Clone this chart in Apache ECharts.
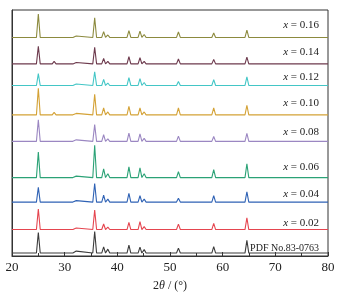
<!DOCTYPE html>
<html>
<head>
<meta charset="utf-8">
<script src="https://cdn.jsdelivr.net/npm/echarts@6/dist/echarts.min.js"></script>
<style>
  html, body { margin: 0; padding: 0; background: #fff; }
  #chart { width: 342px; height: 297px; }
</style>
</head>
<body>
<div id="chart"></div>
<script>
// peak positions (2θ, degrees)
const PEAKS = [21.4, 25.0, 28.0, 31.2, 32.2, 35.7, 37.4, 38.2, 39.6, 40.7, 42.2, 44.3, 45.1, 46.8,
  51.6, 54.3, 56.6, 58.3, 61.9, 64.6, 68.0, 71.0, 74.0, 76.2];

// trace names, colours, vertical offsets (stacked) and peak heights
const NAMES = ['PDF No.83-0763', 'x = 0.02', 'x = 0.04', 'x = 0.06', 'x = 0.08', 'x = 0.10', 'x = 0.12', 'x = 0.14', 'x = 0.16'];
const COLORS = ['#3c3c3c', '#e5454f', '#2f62b5', '#2ba276', '#9b87c2', '#d4a236', '#43c6c6', '#6d3a4d', '#8c8a3e'];
const OFFSETS = [3, 27, 55, 80, 117, 144, 174, 196, 223];

const H_PDF = [1, 21, 1.5, 2, 2, 22, 6.3, 4, 2, 2, 8, 6, 3.5, 1.5, 5, 1, 1.5, 6.5, 2, 13, 1, 1, 1, 1.5];
const H_002 = [1, 21, 1.5, 1.5, 1.5, 20, 5.7, 2.5, 1.5, 1.5, 7.3, 8, 3, 1, 5.5, 0.5, 1, 6.3, 1.5, 12, 0.5, 0.5, 0.5, 1];
const H_004 = [1, 15, 1.5, 1.5, 1.5, 19, 7, 3, 1.5, 1.5, 9, 6.5, 3, 1, 4, 0.5, 1, 6.5, 1.5, 10.5, 0.5, 0.5, 0.5, 1];
const H_006 = [1, 26, 2, 1.5, 1.5, 33, 9, 4, 2, 2, 11, 10, 4, 1, 6, 0.5, 1, 8, 2, 14, 0.5, 0.5, 0.5, 1];
const H_008 = [1, 22, 2, 1.5, 1.5, 17, 6.7, 2.5, 1.5, 1.5, 8.3, 7.7, 3, 1, 5.3, 0.5, 1, 5, 1.5, 8, 0.5, 0.5, 0.5, 1];
const H_010 = [1, 27, 2.5, 1.5, 1.5, 21, 7, 3, 1.5, 1.5, 8.7, 7, 3, 1, 7, 0.5, 1, 7, 2, 9.7, 0.5, 0.5, 0.5, 1];
const H_012 = [1, 12, 2, 1.5, 1.5, 14, 6.3, 2.5, 1.5, 1.5, 8, 7, 3, 1, 4, 0.5, 1, 6, 1.5, 8.7, 0.5, 0.5, 0.5, 1];
const H_014 = [1, 18, 2.5, 1.5, 1.5, 17, 5.5, 2.5, 1.5, 1.5, 7.3, 6.3, 2.5, 1, 5, 0.5, 1, 4.5, 1.5, 7, 0.5, 0.5, 0.5, 1];
const H_016 = [1, 24, 2, 1.5, 1.5, 20, 6, 2.5, 1.5, 1.5, 7, 6.5, 3, 1, 5.5, 0.5, 1, 4.5, 1.5, 7.5, 0.5, 0.5, 0.5, 1];
const HEIGHTS = [H_PDF, H_002, H_004, H_006, H_008, H_010, H_012, H_014, H_016];

// label positions (px)
const LABEL_Y = [249, 224, 195, 168, 133, 104, 78, 53, 26];

const HALF = 0.36; // peak half width at base, degrees

function trace(heights, base) {
  const pts = [[20, base]];
  PEAKS.forEach((p, i) => {
    pts.push([p - HALF, base], [p, base + heights[i]], [p + HALF, base]);
  });
  pts.push([80, base]);
  return pts;
}

const FONT = '"Liberation Serif", "DejaVu Serif", serif';

const chart = echarts.init(document.getElementById('chart'), null, { renderer: 'canvas' });

chart.setOption({
  animation: false,
  backgroundColor: '#fff',
  grid: { left: 12, right: 14, top: 10, bottom: 36, show: true, borderColor: '#333', borderWidth: 1 },
  xAxis: {
    type: 'value',
    min: 20,
    max: 80,
    interval: 10,
    name: '2{i|θ} / (°)',
    nameLocation: 'middle',
    nameGap: 24,
    nameTextStyle: {
      fontFamily: FONT, fontSize: 12, color: '#222',
      rich: { i: { fontFamily: FONT, fontStyle: 'italic', fontSize: 12, color: '#222' } }
    },
    axisLine: { lineStyle: { color: '#333', width: 1 } },
    axisTick: { inside: true, length: 4, lineStyle: { color: '#333' } },
    minorTick: { show: true, splitNumber: 2, length: 3, lineStyle: { color: '#333' } },
    splitLine: { show: false },
    axisLabel: { fontFamily: FONT, fontSize: 13, color: '#222', margin: 5 }
  },
  yAxis: {
    type: 'value',
    min: 0,
    max: 251,
    axisLine: { show: true, lineStyle: { color: '#333', width: 1 } },
    axisTick: { show: false },
    axisLabel: { show: false },
    splitLine: { show: false }
  },
  series: NAMES.map((n, k) => ({
    name: n,
    type: 'line',
    data: trace(HEIGHTS[k], OFFSETS[k]),
    symbol: 'none',
    lineStyle: { color: COLORS[k], width: 1.1 },
    silent: true
  })),
  graphic: NAMES.map((n, k) => ({
    type: 'text',
    right: 23,
    top: LABEL_Y[k] - 6,
    style: {
      text: k === 0 ? n : '{i|x} = ' + n.slice(4),
      font: (k === 0 ? '10px ' : '11px ') + FONT,
      fill: '#222',
      rich: { i: { fontStyle: 'italic', fontFamily: FONT, fontSize: 11, fill: '#222' } }
    }
  }))
});
</script>
</body>
</html>
